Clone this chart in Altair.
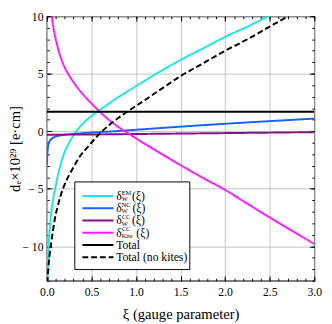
import altair as alt
import pandas as pd

# ---- data ----
em_x = [0.007, 0.01, 0.02, 0.035, 0.05, 0.075, 0.1, 0.14, 0.2, 0.25, 0.3, 0.35, 0.4, 0.45, 0.5, 0.575, 0.65, 0.75, 0.85, 1.0, 1.25, 1.5, 1.75, 2.0, 2.25, 2.5, 2.6]
em_y = [-13.3, -12.2, -10.0, -8.2, -7.0, -5.7, -4.7, -3.3, -1.8, -1.0, -0.35, 0.2, 0.62, 1.0, 1.32, 1.75, 2.15, 2.7, 3.2, 3.92, 5.1, 6.2, 7.2, 8.2, 9.1, 10.05, 10.4]

nc_x = [0.001, 0.005, 0.01, 0.02, 0.03, 0.05, 0.08, 0.14, 0.2, 0.32, 0.45, 0.6, 0.72, 1.0, 1.5, 2.0, 2.5, 3.0]
nc_y = [-2.9, -2.0, -1.5, -1.05, -0.88, -0.68, -0.52, -0.38, -0.3, -0.22, -0.14, -0.07, -0.02, 0.13, 0.4, 0.65, 0.88, 1.1]

cc_x = [0.0, 0.5, 1.0, 1.5, 2.0, 2.5, 3.0]
cc_y = [-0.3, -0.28, -0.24, -0.2, -0.16, -0.12, -0.08]

kite_x = [0.05, 0.06, 0.08, 0.1, 0.15, 0.2, 0.25, 0.3, 0.35, 0.4, 0.45, 0.5, 0.58, 0.65, 0.72, 0.8, 0.9, 1.0, 1.25, 1.5, 1.75, 2.0, 2.25, 2.5, 2.75, 3.0]
kite_y = [10.3, 9.7, 8.75, 8.0, 6.55, 5.55, 4.85, 4.25, 3.72, 3.25, 2.82, 2.42, 1.8, 1.3, 0.85, 0.38, -0.12, -0.62, -1.8, -2.95, -4.05, -5.1, -6.3, -7.5, -8.65, -9.8]

total_x = [0.0, 3.0]
total_y = [1.7, 1.7]

nokite_x = [0.005, 0.015, 0.03, 0.05, 0.065, 0.1, 0.12, 0.15, 0.185, 0.25, 0.3, 0.36, 0.45, 0.6, 0.7, 0.8, 0.9, 1.0, 1.25, 1.5, 1.75, 2.0, 2.25, 2.5, 2.69, 2.75]
nokite_y = [-13.2, -12.0, -10.8, -9.6, -8.8, -7.2, -6.6, -5.7, -4.9, -3.8, -3.1, -2.3, -1.45, -0.15, 0.55, 1.15, 1.7, 2.2, 3.5, 4.8, 5.9, 7.0, 8.0, 9.1, 9.95, 10.25]

series = ["EM", "NC", "CC", "Kite", "Total", "NoKites"]
colors = ["#1ee6e6", "#1a62ff", "#7d1589", "#ff1aff", "#000000", "#000000"]
dashes = [[1, 0], [1, 0], [1, 0], [1, 0], [1, 0], [6, 3]]

x_major = [0.0, 0.5, 1.0, 1.5, 2.0, 2.5, 3.0]
x_minor = [round(i * 0.1, 1) for i in range(31)]
y_major = [-10, -5, 0, 5, 10]
y_minor = list(range(-13, 11))

legend_sup = ["EM", "NC", "CC", "CC"]
legend_sub = ["W", "W", "W", "Kite"]
legend_text = ["Total", "Total (no kites)"]

# ---- table ----
rows = []
for name, xs, ys in zip(series, [em_x, nc_x, cc_x, kite_x, total_x, nokite_x],
                        [em_y, nc_y, cc_y, kite_y, total_y, nokite_y]):
    for i, (a, b) in enumerate(zip(xs, ys)):
        rows.append({"xi": a, "val": b, "series": name, "order": i})
df = pd.DataFrame(rows)

W, H = 275, 272
FONT = "Liberation Serif, Times New Roman, Times, serif"
xs_ = alt.Scale(domain=[0, 3], nice=False, zero=False)
ys_ = alt.Scale(domain=[-13, 10], nice=False, zero=False)

base = alt.Chart(df)

lines = base.mark_line(clip=True, strokeWidth=2, interpolate="monotone").encode(
    x=alt.X("xi:Q", scale=xs_, axis=alt.Axis(
        orient="bottom", values=x_major, format=".1f", grid=True, gridColor="#c4c4c4",
        gridWidth=1, ticks=False, tickSize=0, domain=False, labelFont=FONT, labelFontSize=12,
        labelColor="black", labelPadding=6, labelFlush=False,
        title="ξ (gauge parameter)", titleFont=FONT,
        titleFontSize=15, titleFontWeight="normal", titleColor="black", titlePadding=10)),
    y=alt.Y("val:Q", scale=ys_, axis=alt.Axis(
        orient="left", values=y_major, grid=True, gridColor="#c4c4c4", gridWidth=1,
        ticks=False, tickSize=0, domain=False, labelFont=FONT, labelFontSize=12,
        labelColor="black", labelPadding=4, labelFlush=False,
        labelExpr="datum.value < 0 ? '− ' + abs(datum.value) : datum.label",
        title="dₑ×10²⁹ [e·cm]", titleFont=FONT, titleFontSize=15,
        titleFontWeight="normal", titleColor="black",
        titleX=-25, titleY=H / 2, titleAngle=270, titleAlign="center", titleBaseline="bottom")),
    color=alt.Color("series:N", scale=alt.Scale(domain=series, range=colors), legend=None),
    strokeDash=alt.StrokeDash("series:N", scale=alt.Scale(domain=series, range=dashes), legend=None),
    order="order:Q",
)


def tick_layer(xorient, xoff, xvals, yorient, yoff, yvals, size):
    return base.mark_line(strokeOpacity=0).encode(
        x=alt.X("xi:Q", scale=xs_, axis=alt.Axis(
            orient=xorient, offset=xoff, values=xvals, labels=False, domain=False,
            grid=False, tickSize=size, tickColor="black", tickWidth=1, title="")),
        y=alt.Y("val:Q", scale=ys_, axis=alt.Axis(
            orient=yorient, offset=yoff, values=yvals, labels=False, domain=False,
            grid=False, tickSize=size, tickColor="black", tickWidth=1, title="")),
    )


ticks = [
    tick_layer("top", -H, x_major, "right", -W, y_major, 5),
    tick_layer("top", -H, x_minor, "right", -W, y_minor, 2.5),
    tick_layer("bottom", -H, x_major, "left", -W, y_major, 5),
    tick_layer("bottom", -H, x_minor, "left", -W, y_minor, 2.5),
]

one = pd.DataFrame({"k": [0]})
legend_layers = [
    alt.Chart(one).mark_rect(fill="white", stroke="black", strokeWidth=1).encode(
        x=alt.value(28.7), x2=alt.value(147), y=alt.value(170.4), y2=alt.value(260.5))
]
row_y = [184.8, 197.4, 210.0, 222.6, 235.2, 247.8]
paren_x = [87.5, 88, 87.5, 92]
for i, name in enumerate(series):
    ry = row_y[i]
    legend_layers.append(
        alt.Chart(one).mark_rule(color=colors[i], strokeWidth=2, strokeDash=dashes[i] if i == 5 else [1, 0]).encode(
            x=alt.value(36.5), x2=alt.value(68.5), y=alt.value(ry)))
    if i < 4:
        legend_layers.append(alt.Chart(one).mark_text(align="left", baseline="middle", font=FONT, fontSize=12, color="black", text="δ").encode(
            x=alt.value(71.3), y=alt.value(ry)))
        legend_layers.append(alt.Chart(one).mark_text(align="left", baseline="bottom", font=FONT, fontSize=6.5, color="black", text=legend_sup[i]).encode(
            x=alt.value(77), y=alt.value(ry - 0.3)))
        legend_layers.append(alt.Chart(one).mark_text(align="left", baseline="top", font=FONT, fontSize=6.5, color="black", text=legend_sub[i]).encode(
            x=alt.value(77), y=alt.value(ry + 0.3)))
        legend_layers.append(alt.Chart(one).mark_text(align="left", baseline="middle", font=FONT, fontSize=12, color="black", text="(ξ)").encode(
            x=alt.value(paren_x[i]), y=alt.value(ry)))
    else:
        legend_layers.append(alt.Chart(one).mark_text(align="left", baseline="middle", font=FONT, fontSize=12, color="black", text=legend_text[i - 4]).encode(
            x=alt.value(71.3), y=alt.value(ry)))

chart = alt.layer(lines, *ticks, *legend_layers).resolve_axis(
    x="independent", y="independent"
).properties(
    width=W, height=H,
    autosize=alt.AutoSizeParams(type="none"),
    padding={"left": 40, "top": 4, "right": 10, "bottom": 40},
).configure_view(stroke="black", strokeWidth=1.2)

chart.save("out.html", embed_options={"renderer": "svg", "actions": False})
